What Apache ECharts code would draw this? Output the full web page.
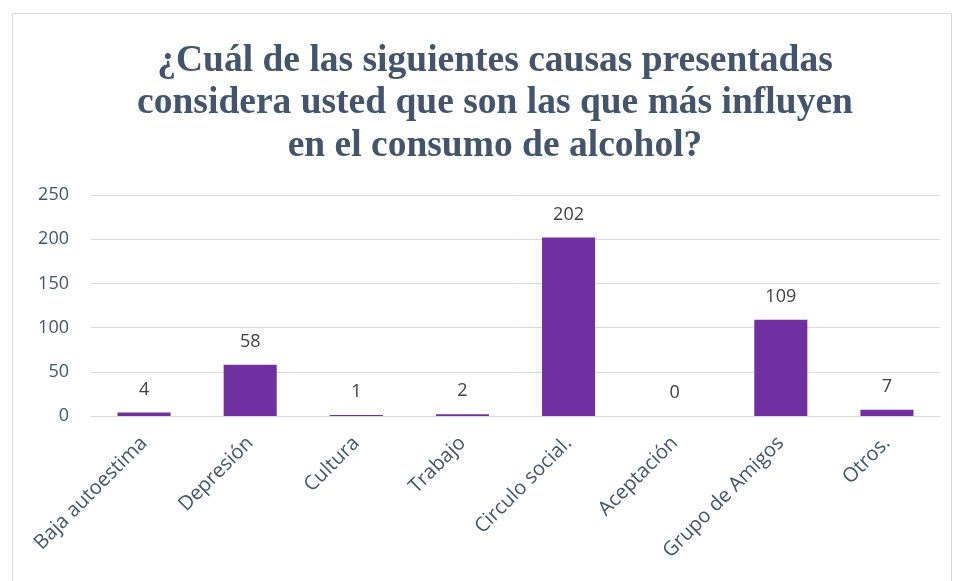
<!DOCTYPE html>
<html>
<head>
<meta charset="utf-8">
<script src="https://cdn.jsdelivr.net/npm/echarts@6/dist/echarts.min.js"></script>
<style>
  html, body { margin: 0; padding: 0; background: #fff; }
  #chart { width: 955px; height: 581px; }
  .frame { position: absolute; left: 12px; top: 13px; width: 940px; height: 600px; border: 1px solid #d9d9d9; box-sizing: border-box; pointer-events: none; }
</style>
</head>
<body>
<div id="chart"></div>
<div class="frame"></div>
<script>
const titleText = '¿Cuál de las siguientes causas presentadas\nconsidera usted que son las que más influyen\nen el consumo de alcohol?'
const categories = ['Baja autoestima', 'Depresión', 'Cultura', 'Trabajo', 'Circulo social.', 'Aceptación', 'Grupo de Amigos', 'Otros.']
const values = [4, 58, 1, 2, 202, 0, 109, 7]
const yTicks = { min: 0, max: 250, interval: 50 }

const chart = echarts.init(document.getElementById('chart'))

const option = {
  animation: false,
  title: {
    text: titleText,
    left: 490,
    textAlign: 'center',
    top: 35,
    textStyle: {
      fontFamily: 'Liberation Serif',
      fontWeight: 'bold',
      fontSize: 37.5,
      lineHeight: 42.5,
      color: '#44546A'
    }
  },
  grid: {
    left: 91,
    right: 15,
    top: 195,
    bottom: 165,
    containLabel: false
  },
  xAxis: {
    type: 'category',
    data: categories,
    axisLine: { show: true, lineStyle: { color: '#d9d9d9', width: 1 } },
    axisTick: { show: false },
    axisLabel: {
      rotate: 45,
      interval: 0,
      margin: 24,
      fontFamily: 'Open Sans',
      fontSize: 20,
      color: '#44546A'
    }
  },
  yAxis: {
    type: 'value',
    min: yTicks.min,
    max: yTicks.max,
    interval: yTicks.interval,
    axisLine: { show: false },
    axisTick: { show: false },
    splitLine: { lineStyle: { color: '#d9d9d9', width: 1 } },
    axisLabel: {
      margin: 22,
      fontFamily: 'Open Sans',
      fontSize: 18,
      color: '#44546A'
    }
  },
  series: [{
    type: 'bar',
    data: values,
    barWidth: '50%',
    itemStyle: { color: '#7030A0' },
    label: {
      show: true,
      position: 'top',
      distance: 14,
      fontFamily: 'Open Sans',
      fontSize: 18,
      color: '#404040'
    }
  }]
}

chart.setOption(option)
</script>
</body>
</html>
